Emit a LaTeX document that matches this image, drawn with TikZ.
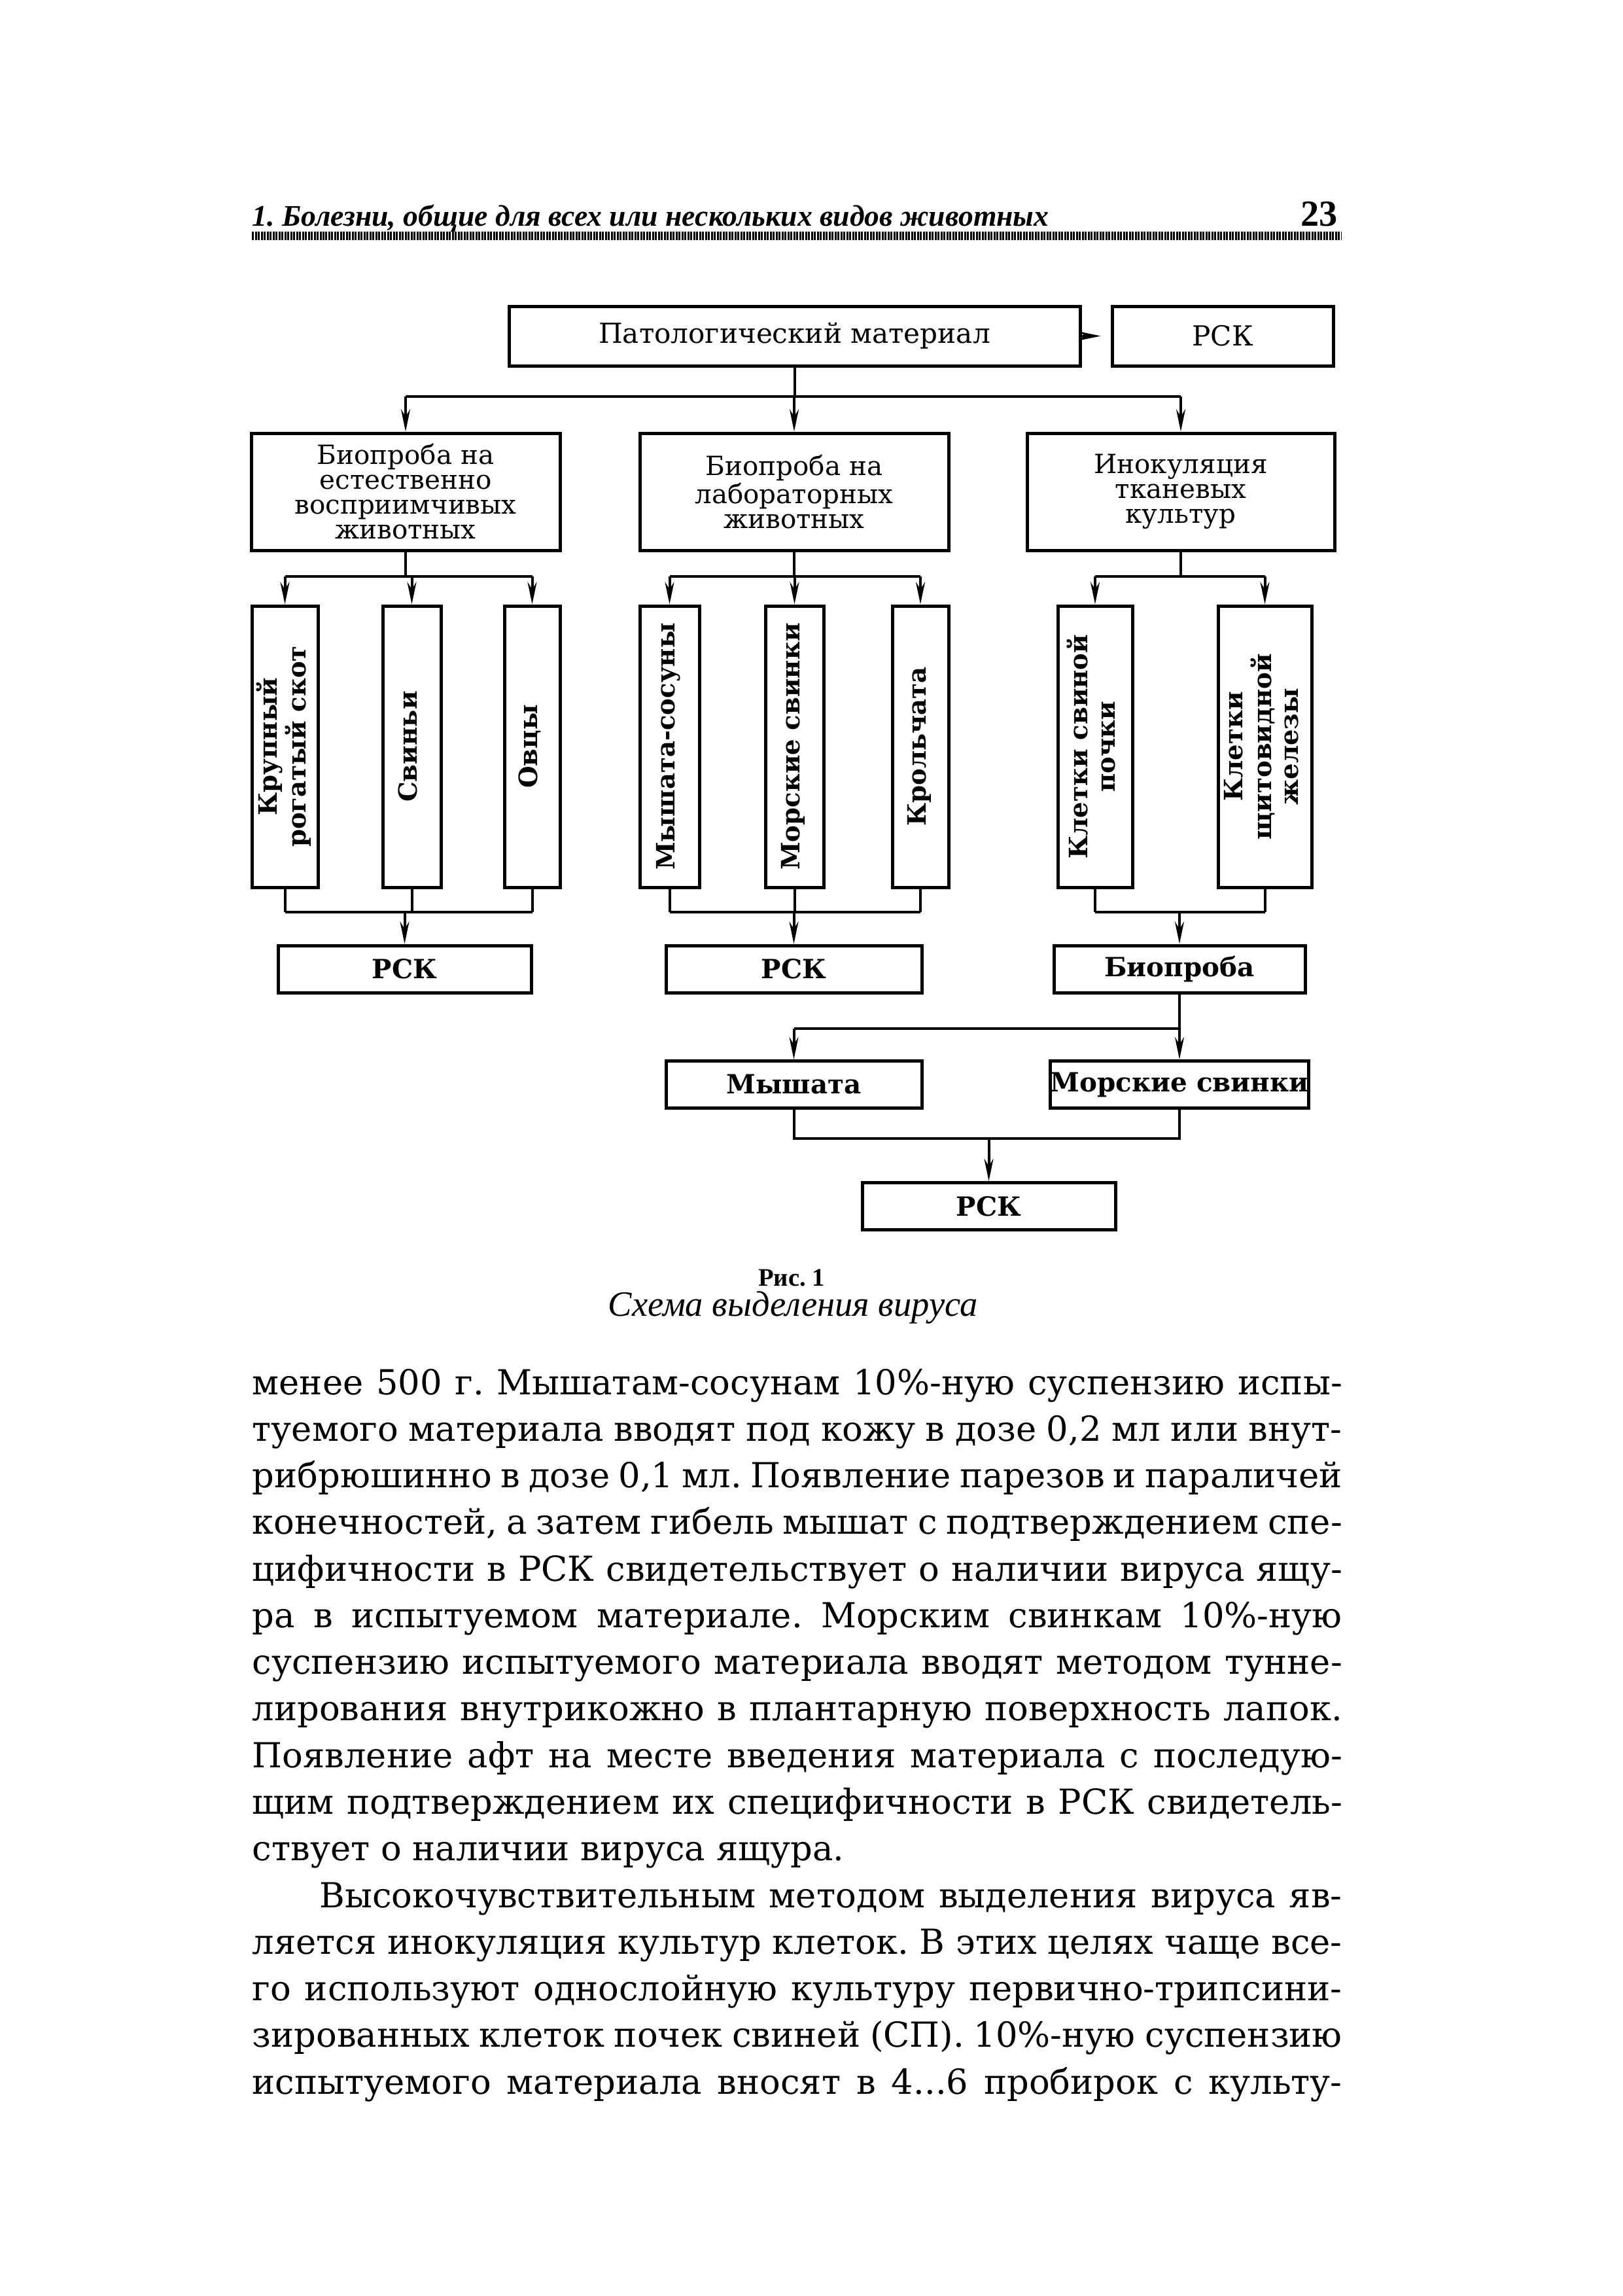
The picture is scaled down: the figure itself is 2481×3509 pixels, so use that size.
\documentclass[tikz,border=0pt]{standalone}
\usepackage{fontspec}
\setmainfont{DejaVu Serif}
\newfontfamily\hdrfont{Liberation Serif}
\usetikzlibrary{arrows.meta}
\frenchspacing
\newcommand{\vtext}[1]{\rotatebox{90}{\begin{tabular}{@{}c@{}}#1\end{tabular}}}
\newcommand{\bodyline}[1]{\makebox[166.6mm][s]{#1}}
\newcommand{\tdots}{...}

\begin{document}
\begin{tikzpicture}[
    x=0.1mm, y=-0.1mm,
    every node/.style={inner sep=0pt},
    sbox/.style={
        draw, line width=0.5mm, align=center,
        font=\fontsize{11.5}{10.8}\selectfont
    },
    tbox/.style={
        sbox, minimum height=7.2mm,
        font=\bfseries\fontsize{11.5}{12}\selectfont
    },
    vbox/.style={
        draw, line width=0.5mm, minimum height=43mm,
        font=\bfseries\fontsize{11}{11.8}\selectfont
    },
    link/.style={line width=0.4mm},
    arr/.style={link, -{Stealth[length=3.4mm, width=1.4mm]}},
    body/.style={anchor=base west, font=\fontsize{15}{17}\selectfont},
]
\useasboundingbox (0,0) rectangle (2481,3509);

% === running head ===
\node[anchor=base west, font=\hdrfont\bfseries\itshape\fontsize{13}{15}\selectfont] (hdr) at (385,345)
    {1. Болезни, общие для всех или нескольких видов животных};
\node[anchor=base east, font=\hdrfont\bfseries\fontsize{16}{18}\selectfont] (pg) at (2045,345) {23};
\draw[line width=1.3mm, dash pattern=on 0.3mm off 0.15mm] (385,360) -- (2051,360);

% === top row ===
\node[sbox, minimum width=87.3mm, minimum height=9.1mm, font=\fontsize{12}{12}\selectfont] (pm) at (1214.5,513.5)
    {Патологический материал};
\node[sbox, minimum width=33.8mm, minimum height=9.1mm, font=\fontsize{12}{12}\selectfont] (rsk0) at (1869,513.5) {РСК};

% === second row ===
\node[sbox, minimum width=47.2mm, minimum height=17.9mm] (bio1) at (620,751.5)
    {Биопроба на\\естественно\\восприимчивых\\животных};
\node[sbox, minimum width=47.2mm, minimum height=17.9mm] (bio2) at (1214,751.5)
    {Биопроба на\\лабораторных\\животных};
\node[sbox, minimum width=47mm, minimum height=17.9mm] (inoc) at (1805,751.5)
    {Инокуляция\\тканевых\\культур};

% === columns ===
\node[vbox, minimum width=10.1mm] (krs) at (435.5,1141) {\vtext{Крупный\\рогатый скот}};
\node[vbox, minimum width=8.9mm] (svin) at (629.5,1141) {\vtext{Свиньи}};
\node[vbox, minimum width=8.5mm] (ovc) at (813.5,1141) {\vtext{Овцы}};
\node[vbox, minimum width=9.1mm] (mss) at (1023.5,1141) {\vtext{Мышата-сосуны}};
\node[vbox, minimum width=8.9mm] (mors) at (1214.5,1141) {\vtext{Морские свинки}};
\node[vbox, minimum width=8.6mm] (krol) at (1407,1141) {\vtext{Крольчата}};
\node[vbox, minimum width=11.4mm] (kls) at (1674,1141) {\vtext{Клетки свиной\\почки}};
\node[vbox, minimum width=14.3mm] (klsh) at (1933.5,1141) {\vtext{Клетки\\щитовидной\\железы}};

% === lower boxes ===
\node[tbox, minimum width=38.7mm] (rsk1) at (618.5,1481) {РСК};
\node[tbox, minimum width=39.1mm] (rsk2) at (1213.5,1481) {РСК};
\node[tbox, minimum width=38.4mm] (biop) at (1803,1481) {Биопроба};
\node[tbox, minimum width=39.1mm] (mysh) at (1213.5,1657.5) {Мышата};
\node[tbox, minimum width=38.4mm] (morsv) at (1803,1657.5) {Морские свинки};
\node[tbox, minimum width=38.7mm] (rskf) at (1511.5,1843.5) {РСК};

% === caption ===
\node[font=\hdrfont\bfseries\fontsize{11}{13}\selectfont] (fig) at (1210,1953) {Рис. 1};
\node[font=\hdrfont\itshape\fontsize{15.5}{17}\selectfont] (cap) at (1212,1998) {Схема выделения вируса};

% === bus levels ===
\coordinate (ya) at (0,606);
\coordinate (yb) at (0,881);
\coordinate (yc) at (0,1394);
\coordinate (yd) at (0,1572);
\coordinate (ye) at (0,1740);

% === connectors ===
\draw[arr, shorten >=1.5mm] (pm.east) -- (rsk0.west);
\draw[link] (pm.south) -- (pm.south |- ya);
\draw[link] (bio1.north |- ya) -- (inoc.north |- ya);
\foreach \b in {bio1, bio2, inoc}
    \draw[arr] (\b.north |- ya) -- (\b.north);

\draw[link] (bio1.south) -- (bio1.south |- yb);
\draw[link] (krs.north |- yb) -- (ovc.north |- yb);
\draw[link] (bio2.south) -- (bio2.south |- yb);
\draw[link] (mss.north |- yb) -- (krol.north |- yb);
\draw[link] (inoc.south) -- (inoc.south |- yb);
\draw[link] (kls.north |- yb) -- (klsh.north |- yb);
\foreach \c in {krs, svin, ovc, mss, mors, krol, kls, klsh}
    \draw[arr] (\c.north |- yb) -- (\c.north);

\foreach \c in {krs, svin, ovc, mss, mors, krol, kls, klsh}
    \draw[link] (\c.south) -- (\c.south |- yc);
\draw[link] (krs.south |- yc) -- (ovc.south |- yc);
\draw[link] (mss.south |- yc) -- (krol.south |- yc);
\draw[link] (kls.south |- yc) -- (klsh.south |- yc);
\foreach \r in {rsk1, rsk2, biop}
    \draw[arr] (\r.north |- yc) -- (\r.north);

\draw[link] (biop.south) -- (biop.south |- yd) -- (mysh.north |- yd);
\draw[arr] (mysh.north |- yd) -- (mysh.north);
\draw[arr] (morsv.north |- yd) -- (morsv.north);

\draw[link] (mysh.south) -- (mysh.south |- ye) -- (morsv.south |- ye) -- (morsv.south);
\draw[arr] (rskf.north |- ye) -- (rskf.north);

% === body text ===
\foreach \t [count=\i from 0] in {
    {менее 500 г. Мышатам-сосунам 10\%-ную суспензию испы-},
    {туемого материала вводят под кожу в дозе 0,2 мл или внут-},
    {рибрюшинно в дозе 0,1 мл. Появление парезов и параличей},
    {конечностей, а затем гибель мышат с подтверждением спе-},
    {цифичности в РСК свидетельствует о наличии вируса ящу-},
    {ра в испытуемом материале. Морским свинкам 10\%-ную},
    {суспензию испытуемого материала вводят методом тунне-},
    {лирования внутрикожно в плантарную поверхность лапок.},
    {Появление афт на месте введения материала с последую-},
    {щим подтверждением их специфичности в РСК свидетель-}}
    \node[body] (p\i) at (385,2131+71.27*\i) {\bodyline{\t}};
\node[body] (p10) at (385,2131+71.27*10) {ствует о наличии вируса ящура.};
\node[body] (q0) at (488,2131+71.27*11) {\makebox[156.3mm][s]{Высокочувствительным методом выделения вируса яв-}};
\foreach \t [count=\i from 1] in {
    {ляется инокуляция культур клеток. В этих целях чаще все-},
    {го используют однослойную культуру первично-трипсини-},
    {зированных клеток почек свиней (СП). 10\%-ную суспензию},
    {испытуемого материала вносят в 4\tdots6 пробирок с культу-}}
    \node[body] (q\i) at (385,2131+71.27*11+71.27*\i) {\bodyline{\t}};

\end{tikzpicture}
\end{document}
